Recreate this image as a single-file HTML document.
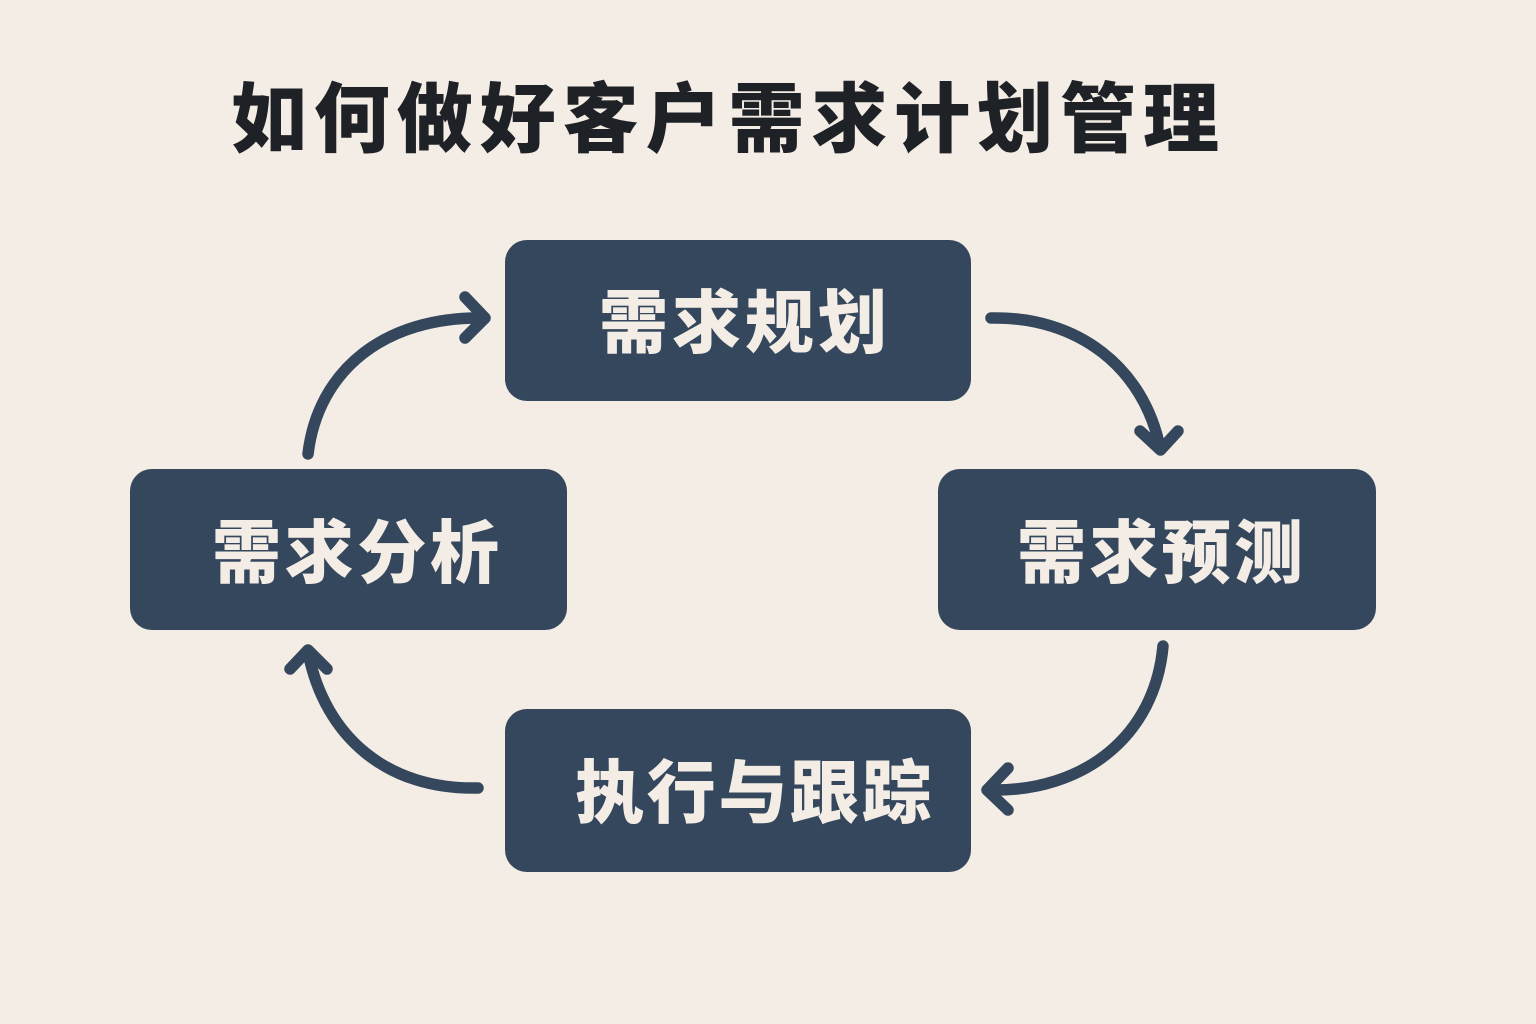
<!DOCTYPE html>
<html lang="zh">
<head>
<meta charset="utf-8">
<style>
html,body{margin:0;padding:0;background:#f4ede5;}
svg{display:block;}
text{font-family:"Liberation Sans","Noto Sans CJK SC",sans-serif;font-weight:900;}
</style>
</head>
<body>
<svg width="1536" height="1024" viewBox="0 0 1536 1024" xmlns="http://www.w3.org/2000/svg">
<rect width="1536" height="1024" fill="#f4ede5"/>
<text x="231" y="146" font-size="76" fill="#1e2226" textLength="988" lengthAdjust="spacing">如何做好客户需求计划管理</text>
<g fill="#34475d">
<rect x="505" y="240" width="466" height="161" rx="22"/>
<rect x="130" y="469" width="437" height="161" rx="22"/>
<rect x="938" y="469" width="438" height="161" rx="22"/>
<rect x="505" y="709" width="466" height="163" rx="22"/>
</g>
<g fill="#f4ede5" font-size="69">
<text x="599" y="347" textLength="288" lengthAdjust="spacing">需求规划</text>
<text x="212" y="577" textLength="287" lengthAdjust="spacing">需求分析</text>
<text x="1017" y="577" textLength="286" lengthAdjust="spacing">需求预测</text>
<text x="575" y="817" textLength="356" lengthAdjust="spacing">执行与跟踪</text>
</g>
<g fill="none" stroke="#34475d" stroke-width="11.5" stroke-linecap="round" stroke-linejoin="round">
<path d="M308 454C318 370 385 316 484 318"/>
<path d="M465 297L485 318L465 338"/>
<path d="M991 318C1078 316 1144 368 1160 448"/>
<path d="M1140 431L1160.500 450L1178 431"/>
<path d="M1163 646C1155 735 1085 792 990 790"/>
<path d="M1008 768L987 790L1008 810"/>
<path d="M478 788C388 790 325 738 308 652"/>
<path d="M290 669L308 650L327 669"/>
</g>
</svg>
</body>
</html>
